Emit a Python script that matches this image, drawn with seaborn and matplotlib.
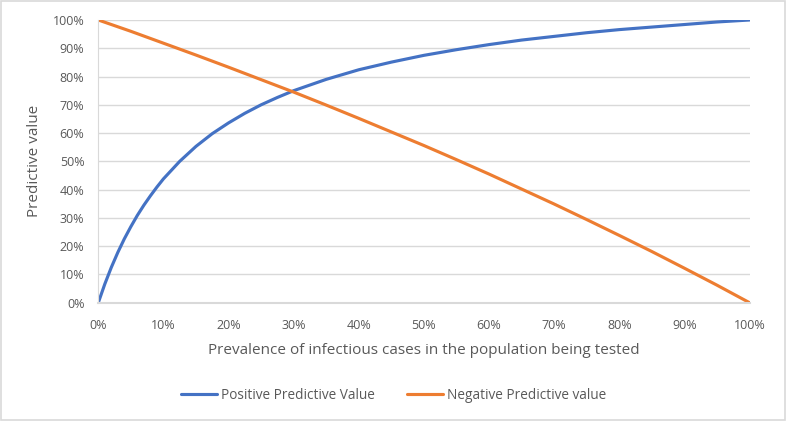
import pandas as pd
import numpy as np
import matplotlib
matplotlib.use("Agg")
import matplotlib.pyplot as plt
from matplotlib.ticker import PercentFormatter
import seaborn as sns

# prevalence (%) and predictive values (%)
prevalence_ppv = [0, 1, 2, 3, 4, 5, 6, 7, 8, 9, 10, 12.5, 15, 17.5, 20, 22.5, 25, 27.5, 30,
                  35, 40, 45, 50, 55, 60, 65, 70, 75, 80, 85, 90, 95, 100]
ppv = [0, 6.6, 12.5, 17.8, 22.6, 26.9, 30.9, 34.5, 37.8, 40.9, 43.8, 50.0, 55.3, 59.8, 63.6,
       67.0, 70.0, 72.6, 75.0, 79.0, 82.4, 85.1, 87.5, 89.5, 91.3, 92.9, 94.2, 95.5, 96.6,
       97.5, 98.4, 99.3, 100]

prevalence_npv = [0, 5, 10, 15, 20, 25, 30, 35, 40, 45, 50,
                  55, 60, 65, 70, 75, 80, 85, 90, 95, 100]
npv = [100, 96.0, 91.8, 87.6, 83.3, 78.9, 74.5, 69.9, 65.2, 60.4, 55.6,
       50.6, 45.5, 40.2, 34.9, 29.4, 23.8, 18.1, 12.2, 6.2, 0]

series_names = ["Positive Predictive Value", "Negative Predictive value"]

df = pd.concat([
    pd.DataFrame({"prev": prevalence_ppv, "val": ppv, "series": series_names[0]}),
    pd.DataFrame({"prev": prevalence_npv, "val": npv, "series": series_names[1]}),
])

sns.set_theme(style="white")
plt.rcParams['font.family'] = ['Open Sans', 'DejaVu Sans']

grey_txt = "#595959"
grid_col = "#D9D9D9"

fig = plt.figure(figsize=(7.87, 4.21), dpi=100)
ax = fig.add_axes([0.1249, 0.281, 0.8275, 0.6715])

sns.lineplot(data=df, x="prev", y="val", hue="series", sort=False,
             palette={series_names[0]: "#4472C4", series_names[1]: "#ED7D31"},
             linewidth=2.25, ax=ax, legend=True)

ax.set_xlim(0, 100)
ax.set_ylim(0, 100)
ax.set_xticks(np.arange(0, 101, 10))
ax.set_yticks(np.arange(0, 101, 10))
ax.xaxis.set_major_formatter(PercentFormatter(decimals=0))
ax.yaxis.set_major_formatter(PercentFormatter(decimals=0))
ax.tick_params(axis="both", length=0, labelsize=9, colors=grey_txt)
ax.tick_params(axis="x", pad=12)
ax.tick_params(axis="y", pad=10)

ax.grid(axis="y", color=grid_col, linewidth=1)
ax.set_axisbelow(True)
for s in ["top", "right"]:
    ax.spines[s].set_visible(False)
ax.spines["bottom"].set_color(grid_col)
ax.spines["bottom"].set_linewidth(1.5)
ax.spines["left"].set_color(grid_col)
ax.spines["left"].set_linewidth(0.8)

ax.set_xlabel("Prevalence of infectious cases in the population being tested",
              fontsize=11, color=grey_txt, labelpad=8)
ax.set_ylabel("Predictive value", fontsize=11, color=grey_txt, labelpad=8)

handles, labels = ax.get_legend_handles_labels()
ax.legend(handles, labels, loc="center", bbox_to_anchor=(0.5, 0.06),
          bbox_transform=fig.transFigure, ncol=2, frameon=False,
          fontsize=9.8, labelcolor=grey_txt, handlelength=2.6, columnspacing=2.4,
          handletextpad=0.3)

# chart border
fig.patches.append(plt.Rectangle((0.001, 0.002), 0.997, 0.996, transform=fig.transFigure,
                                 fill=False, edgecolor=grid_col, linewidth=1.2))

fig.savefig("out.png", dpi=100)
